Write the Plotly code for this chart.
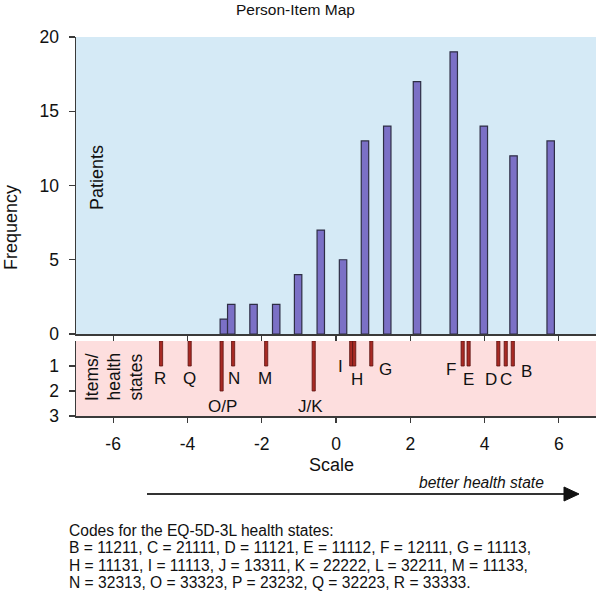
import plotly.graph_objects as go

# ---------------- data ----------------
score_positions = [-3.02, -2.82, -2.22, -1.61, -1.02, -0.41, 0.19, 0.78, 1.38, 2.18, 3.17, 3.98, 4.78, 5.78]
patient_counts = [1, 2, 2, 2, 4, 7, 5, 13, 14, 17, 19, 14, 12, 13]

item_positions = [-4.71, -3.94, -3.08, -2.77, -1.88, -0.60, 0.41, 0.49, 0.95, 3.41, 3.57, 4.37, 4.57, 4.76]
item_counts = [1, 1, 2, 1, 1, 2, 1, 1, 1, 1, 1, 1, 1, 1]
item_labels = ["R", "Q", "O/P", "N", "M", "J/K", "I", "H", "G", "F", "E", "D", "C", "B"]

x_tickvals = [-6, -4, -2, 0, 2, 4, 6]
x_ticktext = ["-6", "-4", "-2", "0", "2", "4", "6"]
y_top_ticks = [0, 5, 10, 15, 20]
y_bottom_ticks = [1, 2, 3]

caption_lines = [
    "Codes for the EQ-5D-3L health states:",
    "B = 11211, C = 21111, D = 11121, E = 11112, F = 12111, G = 11113,",
    "H = 11131, I = 11113, J = 13311, K = 22222, L = 32211, M = 11133,",
    "N = 32313, O = 33323, P = 23232, Q = 32223, R = 33333.",
]

# ---------------- layout helpers ----------------
W, H = 597, 591
PLOT_L, PLOT_R, PLOT_T, PLOT_B = 76, 596, 37, 416  # pixels
ML, MR, MT, MB = PLOT_L, W - PLOT_R, PLOT_T, H - PLOT_B
PW, PH = PLOT_R - PLOT_L, PLOT_B - PLOT_T
FONT = "Liberation Sans, Arial, sans-serif"


def px(x):
    return (x - PLOT_L) / PW


def py(y):
    return (PLOT_B - y) / PH


top_dom = [py(334), 1.0]
bot_dom = [0.0, py(341)]

# label placement (layout, data units of the lower panel)
label_x = [-4.73, -3.95, -3.06, -2.74, -1.90, -0.69, 0.11, 0.56, 1.32, 3.10, 3.58, 4.17, 4.59, 5.13]
label_y = [1.48, 1.48, 2.6, 1.48, 1.48, 2.6, 1.03, 1.52, 1.12, 1.12, 1.52, 1.52, 1.52, 1.23]

fig = go.Figure()

fig.add_trace(go.Bar(
    x=score_positions, y=patient_counts, width=0.2,
    marker=dict(color="#7B70C6", line=dict(color="#2E2E45", width=1.2)),
    xaxis="x", yaxis="y", showlegend=False,
))

fig.add_trace(go.Bar(
    x=item_positions, y=item_counts, base=0, width=0.085,
    marker=dict(color="#A82A24", line=dict(color="#5A1210", width=0.8)),
    xaxis="x2", yaxis="y2", showlegend=False,
))

axis_common = dict(
    showgrid=False, zeroline=False, showline=True, linecolor="#3a3a3a", linewidth=1.5,
    ticks="outside", tickcolor="#3a3a3a", tickwidth=1.2,
    tickfont=dict(family=FONT, size=17.5, color="#111"),
)

shapes = [
    dict(type="rect", xref="x domain", yref="y domain", x0=0, x1=1, y0=0, y1=1,
         fillcolor="#D5EAF6", line=dict(width=0), layer="below"),
    dict(type="rect", xref="x2 domain", yref="y2 domain", x0=0, x1=1, y0=0, y1=1,
         fillcolor="#FDDEDE", line=dict(width=0), layer="below"),
    # arrow
    dict(type="line", xref="paper", yref="paper", x0=px(147), x1=px(566), y0=py(494), y1=py(494),
         line=dict(color="#333", width=2)),
    dict(type="path", xref="paper", yref="paper",
         path=f"M {px(564)} {py(487)} L {px(579)} {py(494)} L {px(564)} {py(501)} Z",
         fillcolor="#111", line=dict(color="#111", width=1)),
]


def note(x, y, text, size, **kw):
    d = dict(x=px(x), y=py(y), xref="paper", yref="paper", text=text, showarrow=False,
             xanchor="center", yanchor="middle", font=dict(family=FONT, size=size, color="#111"))
    d.update(kw)
    return d


annotations = []
for lab, lx, ly in zip(item_labels, label_x, label_y):
    annotations.append(dict(x=lx, y=ly, xref="x2", yref="y2", text=lab, showarrow=False,
                            xanchor="center", yanchor="middle",
                            font=dict(family=FONT, size=17, color="#111")))

annotations += [
    note(295, 10, "Person-Item Map", 15.5),
    note(11, 228, "Frequency", 18, textangle=-90),
    note(97, 178, "Patients", 18, textangle=-90),
    note(331, 465, "Scale", 18),
    note(481, 482, "<i>better health state</i>", 15.6),
]
for xcen, word in zip([92, 113.5, 135], ["Items/", "health", "states"]):
    annotations.append(note(xcen, 403, word, 17.5, textangle=-90, yanchor="bottom"))
for i, line in enumerate(caption_lines):
    annotations.append(note(67, 530 + 17.5 * i, line, 15.6, xanchor="left"))

fig.update_layout(
    width=W, height=H,
    margin=dict(l=ML, r=MR, t=MT, b=MB, pad=0),
    paper_bgcolor="white", plot_bgcolor="white",
    bargap=0,
    xaxis=dict(axis_common, domain=[0, 1], range=[-7, 7], anchor="y", tickvals=x_tickvals,
               showticklabels=False, ticklen=5),
    yaxis=dict(axis_common, domain=top_dom, range=[0, 20], anchor="x", tickvals=y_top_ticks,
               ticklen=6, ticklabelstandoff=6),
    xaxis2=dict(axis_common, domain=[0, 1], range=[-7, 7], anchor="y2", tickvals=x_tickvals,
                ticktext=x_ticktext, ticklen=5, ticklabelstandoff=6),
    yaxis2=dict(axis_common, domain=bot_dom, range=[3, 0], anchor="x2", tickvals=y_bottom_ticks,
                ticklen=6, ticklabelstandoff=6),
    shapes=shapes,
    annotations=annotations,
)

fig.write_html("out.html",
               config={"displayModeBar": False, "staticPlot": True},
               post_script="document.body.style.margin='0';document.body.style.overflow='hidden';")
